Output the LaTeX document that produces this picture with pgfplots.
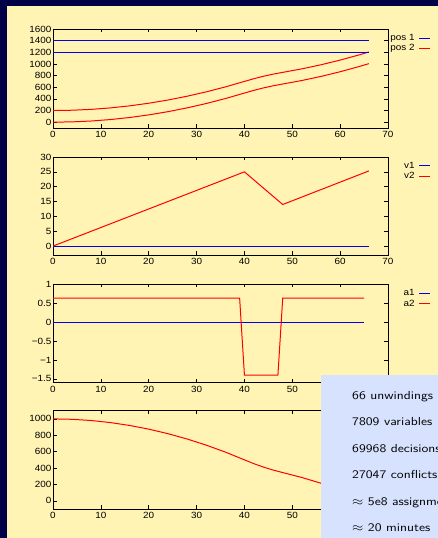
\documentclass[border=0pt]{standalone}
\usepackage{fontspec}
\usepackage{pgfplots}
\pgfplotsset{compat=1.18}
\newfontfamily\gp[FakeStretch=1.1]{Liberation Sans}
\definecolor{navy}{HTML}{000046}
\definecolor{panel}{HTML}{FFF4B4}
\definecolor{boxblue}{HTML}{D6E2FE}
\definecolor{gpred}{HTML}{FF0000}
\definecolor{gpblue}{HTML}{0000F0}
\pgfplotsset{gp/.style={
  scale only axis, width=335pt, xmin=0, xmax=70, xtick={0,10,...,70},
  tick align=inside, major tick length=3.5pt,
  axis line style={line width=0.8pt},
  tick style={black, line width=0.5pt},
  xtick pos=both, ytick pos=both,
  ticklabel style={font=\gp\fontsize{9}{10}\selectfont},
  /pgf/number format/assume math mode=true,
  /pgf/number format/1000 sep={},
  scaled ticks=false,
  yticklabel style={inner xsep=1.5pt},
  legend plot pos=right, legend cell align=right,
  legend style={at={(1.128,0.97)}, anchor=north east, draw=none, fill=none,
    font=\gp\fontsize{9}{8.7}\selectfont, inner sep=0pt, row sep=-1.5pt, column sep=2pt},
  legend image code/.code={\draw[##1, line width=1pt] (0pt,0pt) -- (11pt,0pt);},
}}
\begin{document}
\begin{tikzpicture}
\useasboundingbox (0,0) rectangle (438pt,538pt);
\clip (0,0) rectangle (438pt,538pt);
\fill[navy] (0,0) rectangle (438pt,538pt);
\fill[panel] (7pt,0) rectangle (438pt,532pt);

% panel 1: positions
\begin{axis}[gp, at={(53pt,410pt)}, anchor=south west, height=99pt,
  ymin=-100, ymax=1600, ytick={0,200,...,1600}]
\addplot[gpblue, line width=0.9pt] coordinates {(0,1400) (66,1400)};
\addlegendentry{pos 1}
\addplot[gpred, line width=1pt] coordinates {
(0,200) (4,205) (8,220) (12,245) (16,280) (20,325) (24,380) (28,445) (32,520) (36,605) (40,700)
(42,747.2) (44,788.8) (46,824.8) (48,855.2) (52,915.4) (56,985.6) (60,1065.8) (64,1156) (66,1204.9)};
\addlegendentry{pos 2}
\addplot[gpblue, line width=0.9pt, forget plot] coordinates {(0,1200) (66,1200)};
\addplot[gpred, line width=1pt, forget plot] coordinates {
(0,0) (4,5) (8,20) (12,45) (16,80) (20,125) (24,180) (28,245) (32,320) (36,405) (40,500)
(42,547.2) (44,588.8) (46,624.8) (48,655.2) (52,715.4) (56,785.6) (60,865.8) (64,956) (66,1004.9)};
\end{axis}

% panel 2: velocities
\begin{axis}[gp, at={(53pt,283pt)}, anchor=south west, height=98pt,
  ymin=-3, ymax=30, ytick={0,5,...,30}]
\addplot[gpblue, line width=0.9pt] coordinates {(0,0) (66,0)};
\addlegendentry{v1}
\addplot[gpred, line width=1pt] coordinates {(0,0) (40,25) (48,14) (66,25.3)};
\addlegendentry{v2}
\end{axis}

% panel 3: accelerations
\begin{axis}[gp, at={(53pt,155.3pt)}, anchor=south west, height=98.7pt,
  ymin=-1.6, ymax=1, ytick={-1.5,-1,-0.5,0,0.5,1},
  yticklabels={−1.5,−1,−0.5,0,0.5,1},
  legend style={at={(1.128,0.965)}}]
\addplot[gpblue, line width=0.9pt] coordinates {(0,0) (65,0)};
\addlegendentry{a1}
\addplot[gpred, line width=1pt] coordinates {(0,0.625) (39,0.625) (40,-1.4) (47,-1.4) (48,0.625) (65,0.625)};
\addlegendentry{a2}
\end{axis}

% panel 4: distance
\begin{axis}[gp, at={(53pt,29pt)}, anchor=south west, height=98.3pt,
  ymin=-100, ymax=1100, ytick={0,200,...,1000}]
\addplot[gpred, line width=1pt] coordinates {
(0,1000) (4,995) (8,980) (12,955) (16,920) (20,875) (24,820) (28,755) (32,680) (36,595) (40,500)
(42,452.8) (44,411.2) (46,375.2) (48,344.8) (52,284.6) (56,214.4) (60,134.2) (64,44) (66,-4.9)};
\end{axis}

% info box
\fill[boxblue] (320.7pt,0) rectangle (438pt,163pt);
\begin{scope}[every node/.style={anchor=base west, inner sep=0pt, xscale=1.2, transform shape, font=\sffamily\fontsize{11.6}{14}\selectfont}]
\node at (352pt,138.5pt) {66 unwindings};
\node at (352pt,112.1pt) {7809 variables};
\node at (352pt,85.7pt) {69968 decisions};
\node at (352pt,59.3pt) {27047 conflicts};
\node at (352pt,32.9pt) {$\approx$ 5e8 assignments};
\node at (352pt,6.5pt) {$\approx$ 20 minutes};
\end{scope}
\end{tikzpicture}
\end{document}
